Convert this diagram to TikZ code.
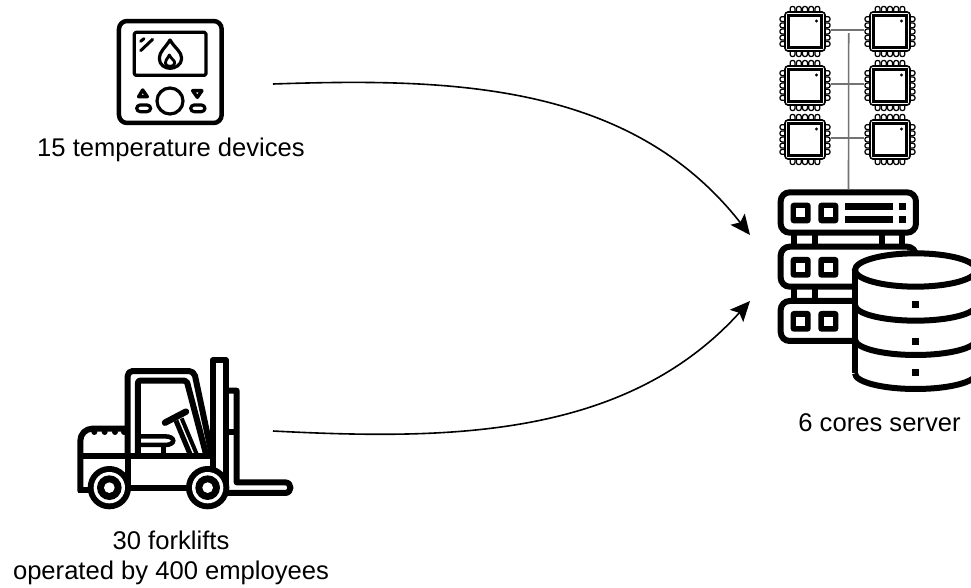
\documentclass[tikz,border=0pt]{standalone}
\usepackage{fontspec}
\setmainfont{Liberation Sans}
\usetikzlibrary{arrows.meta}
\tikzset{
  x=1pt,y=-1pt,
  lbl/.style={font=\fontsize{25.6}{30}\selectfont,align=center,inner sep=0pt,text=black},
  flow/.style={draw=black,line width=1.6pt,-{Stealth[length=20pt,width=18pt,inset=4pt]}},
  bus/.style={draw=black!55,line width=1.6pt},
  hold/.style={inner sep=0pt,minimum width=50pt,minimum height=50pt},
  ic/.style={line width=4.5pt,line cap=round,line join=round,draw=black},
  icm/.style={line width=3.2pt,line cap=round,line join=round,draw=black},
  fk/.style={line width=6pt,line cap=butt,line join=round,draw=black},
  zoomed/.style={x=0.3333pt,y=-0.3333pt},
}
\newcommand{\mychip}[1]{%
  \begin{scope}[shift={(#1)}]
    \foreach \t in {-12.4,-6.2,0,6.2,12.4}{
      \draw[line width=1.25pt,fill=white,rounded corners=2pt] (\t-2.4,-25) rectangle (\t+2.4,25);
      \draw[line width=1.25pt,fill=white,rounded corners=2pt] (-25,\t-2.4) rectangle (25,\t+2.4);
    }
    \draw[line width=1.6pt,fill=white,rounded corners=3pt] (-20,-19.5) rectangle (20,19.5);
    \draw[line width=2.2pt,fill=white] (-16.5,-16) rectangle (16.5,16);
    \fill (11.5,-10.5) circle (1.6pt);
  \end{scope}}
\newcommand{\mysq}[2]{%
  \fill[black,rounded corners=3pt] (#1,#2) rectangle +(60,62);
  \fill[white] (#1+16,#2+17) rectangle +(27,27);}
\newcommand{\mywheel}[1]{%
  \fill[black] (#1) circle (65);
  \fill[white] (#1) circle (47);
  \fill[black] (#1) circle (37);
  \fill[white] (#1) circle (16);}
\newcommand{\mybelly}[1]{%
  \draw[line width=6pt] (405,#1) .. controls (405,#1+26) and (486,#1+47) .. (587,#1+47)
     .. controls (688,#1+47) and (769,#1+26) .. (769,#1);}
\begin{document}
\begin{tikzpicture}
\useasboundingbox (0,0) rectangle (971,587);
\clip (0,0) rectangle (971,587);
\fill[white] (0,0) rectangle (971,587);

% thermostat
\begin{scope}[shift={(90,0)},zoomed]
  \draw[ic,rounded corners=8pt] (87,63) rectangle (395,369);
  \draw[icm,rounded corners=1.5pt] (133,97) rectangle (348,226);
  \draw[line width=3pt,line cap=round] (152,124)--(162,116) (152,152)--(188,118);
  \draw[line width=3.2pt,line join=round] (240,120) .. controls (225,145) and (208,155) .. (208,175)
     .. controls (208,195) and (225,205) .. (240,205) .. controls (255,205) and (275,195) .. (275,175)
     .. controls (275,155) and (255,145) .. (240,120) -- cycle;
  \draw[line width=2.8pt,line join=round] (238,165) .. controls (232,178) and (224,182) .. (226,190)
     .. controls (228,202) and (252,202) .. (254,190) .. controls (256,182) and (244,178) .. (238,165) -- cycle;
  \draw[icm] (240,303) circle (39);
  \draw[line width=3.4pt,line join=round] (158,270) -- (172,290) -- (146,290) -- cycle;
  \draw[line width=3.4pt,line join=round] (322,292) -- (336,272) -- (308,272) -- cycle;
  \draw[icm,rounded corners=3.5pt] (140,315) rectangle (182,335);
  \draw[icm,rounded corners=3.5pt] (302,315) rectangle (345,335);
\end{scope}

% forklift
\begin{scope}[shift={(70,350)},zoomed]
  % mast and fork
  \draw[fk] (428,345) -- (428,31) -- (468,31) -- (468,405);
  \draw[fk] (468,122) -- (500,122) -- (500,397) -- (645,397)
      .. controls (667,397) and (667,429) .. (645,429) -- (465,429);
  \draw[fk] (468,247) -- (500,247);
  % cab
  \draw[fk,rounded corners=5pt] (173,320) -- (173,63) -- (372,63) -- (425,312);
  \draw[fk,rounded corners=2pt] (204,320) -- (204,92) -- (350,92) -- (408,312);
  % steering
  \draw[line width=6.5pt,line cap=round] (285,218) -- (348,185);
  \draw[line width=5pt] (318,212) -- (360,312);
  \draw[line width=4pt] (335,205) -- (380,312);
  % seat
  \draw[line width=4.5pt] (205,259) -- (285,259) .. controls (318,259) and (318,285) .. (285,285) -- (205,285);
  \draw[line width=5pt] (280,285) -- (280,318);
  % hood and chassis
  \draw[fk,rounded corners=12pt] (31,425) -- (31,236) -- (172,236);
  \draw[fk] (31,317) -- (430,317);
  \draw[fk] (173,317) -- (173,410);
  \draw[fk] (430,317) -- (430,360);
  \draw[fk] (24,419) -- (70,419);
  \draw[fk] (170,415) -- (360,415);
  \foreach \xx in {73,104,135,162}{ \fill (\xx,246) circle (9); }
  \mywheel{118,413}
  \mywheel{413,413}
\end{scope}

% chips
\node[hold] (c1) at (805,31.5) {};
\node[hold] (c2) at (890,31.5) {};
\node[hold] (c3) at (805,85.5) {};
\node[hold] (c4) at (890,85.5) {};
\node[hold] (c5) at (805,139.5) {};
\node[hold] (c6) at (890,139.5) {};
\mychip{805,31.5}\mychip{890,31.5}\mychip{805,85.5}\mychip{890,85.5}\mychip{805,139.5}\mychip{890,139.5}
\draw[bus] ([xshift=1pt,yshift=1.5pt]c1.east) -- ([xshift=-1pt,yshift=1.5pt]c2.west);
\draw[bus] ([xshift=1pt,yshift=1.5pt]c3.east) -- ([xshift=-1pt,yshift=1.5pt]c4.west);
\draw[bus] ([xshift=1pt,yshift=1.5pt]c5.east) -- ([xshift=-1pt,yshift=1.5pt]c6.west);

% server
\node[inner sep=0pt,minimum width=141pt,minimum height=47pt] (srv) at (848.5,212.5) {};
\coordinate (busTop) at (848.7,33);
\draw[bus] (busTop) -- (srv.north);
\begin{scope}[shift={(720,180)},zoomed]
  \foreach \xx in {221,284,487,546}{ \draw[line width=6pt] (\xx,160) -- (\xx,200); }
  \foreach \xx in {221,284}{ \draw[line width=6pt] (\xx,320) -- (\xx,363); }
  \draw[line width=6pt,rounded corners=9pt,fill=white] (182,37) rectangle (588,158);
  \draw[line width=6pt,rounded corners=9pt,fill=white] (182,200) rectangle (588,320);
  \draw[line width=6pt,rounded corners=9pt,fill=white] (182,363) rectangle (588,483);
  \foreach \yy in {0,163,325}{ \mysq{212}{68+\yy} \mysq{295}{68+\yy} }
  \fill (375,68) rectangle (520,90);
  \fill (375,108) rectangle (520,130);
  \fill (537,68) rectangle (558,90);
  \fill (537,108) rectangle (558,130);
  % database
  \fill[white] (405,270) -- (405,580) .. controls (405,606) and (486,627) .. (587,627)
     .. controls (688,627) and (769,606) .. (769,580) -- (769,270) -- cycle;
  \draw[line width=6pt] (405,270) -- (405,580);
  \draw[line width=6pt] (769,270) -- (769,580);
  \mybelly{375}
  \mybelly{478}
  \mybelly{580}
  \draw[line width=6pt,fill=white] (587,270) ellipse (182 and 50);
  \fill (577,363) rectangle (597,383);
  \fill (577,474) rectangle (597,494);
  \fill (577,567) rectangle (597,587);
\end{scope}

% labels
\node[lbl] (t1) at (171,150) {15 temperature devices};
\node[lbl,anchor=north] (t2) at (171,531) {30 forklifts\\operated by 400 employees};
\node[lbl] (t3) at (879.5,423) {6 cores server};

% connectors
\coordinate (thermoOut) at (273,84);
\coordinate (forkOut) at (273,431);
\coordinate (srvIn1) at (750,235);
\coordinate (srvIn2) at (750,301);
\draw[flow] (thermoOut) .. controls (450,78) and (630,82) .. (srvIn1);
\draw[flow] (forkOut) .. controls (447,440) and (625,439) .. (srvIn2);
\end{tikzpicture}
\end{document}
